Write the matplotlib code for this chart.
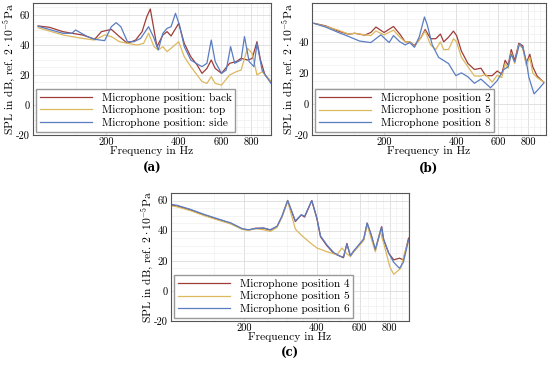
import matplotlib
matplotlib.use("Agg")
import matplotlib.pyplot as plt
import numpy as np

plt.rcParams['font.family'] = ['cmr10', 'DejaVu Serif']
plt.rcParams['mathtext.fontset'] = 'cm'
plt.rcParams['axes.formatter.use_mathtext'] = True

RED = '#9e3c38'
YEL = '#dcb85e'
BLU = '#5a7dc2'

# ---- panel (a): back / top / side
fa_back = [105, 117, 133, 145, 160, 168, 180, 192, 211, 228, 246, 266, 283, 296, 306, 317, 326,
           345, 359, 373, 401, 423, 450, 478, 501, 525, 547, 568, 603, 652, 694, 727, 773, 808,
           846, 875, 913, 967]
a_back = [52.7, 51.8, 48.9, 47.8, 46.7, 45.6, 43.8, 48.9, 50.4, 45.6, 41.1, 43.3, 48.9, 58.9, 64,
          50, 38.9, 46.7, 48.9, 46, 54.4, 41.1, 32.2, 26.7, 21.1, 24.4, 30, 24.4, 21.1, 27.8, 28.9,
          31.1, 30, 31, 42.2, 30, 20, 15.6]
fa_top = [105, 133, 160, 180, 198, 211, 228, 246, 270, 287, 301, 317, 330, 345, 359, 373, 401, 423,
          450, 478, 501, 525, 547, 568, 603, 652, 694, 727, 773, 808, 846, 888, 967]
a_top = [51.5, 46.7, 44.4, 43.3, 46.7, 45.6, 42.2, 41.1, 40, 41.1, 47.8, 38.9, 36.7, 38.9, 35.6,
         37.8, 42.2, 32.2, 25.6, 20, 15.6, 14.4, 18.9, 14.4, 13.3, 20, 22.2, 23.3, 37.8, 34.4, 20,
         22.2, 15.6]
fa_side = [105, 133, 145, 150, 168, 180, 198, 211, 221, 231, 246, 262, 279, 301, 315, 330, 345,
           359, 373, 389, 404, 423, 450, 486, 501, 525, 547, 568, 603, 631, 658, 684, 727, 751,
           785, 822, 846, 888, 967]
a_side = [52.5, 47.8, 47.8, 50, 45.6, 43.8, 42.9, 52.2, 54.9, 52.2, 42.2, 42.2, 44.4, 52.2, 45.6,
          36.7, 47.8, 51.1, 52.2, 61.1, 53.3, 38.9, 30, 26.7, 25.6, 27.8, 43.3, 28.9, 21.1, 23.3,
          38.9, 27.8, 30, 45.6, 28.9, 25.6, 41.1, 23.3, 14.4]

# ---- panel (b): positions 2 / 5 / 8
fb = [102, 114, 129, 142, 151, 166, 176, 185, 200, 219, 233, 245, 256, 268, 286, 297, 313, 329,
      344, 355, 372, 390, 402, 421, 448, 477, 508, 532, 566, 594, 621, 641, 660, 680, 703, 731,
      760, 785, 813, 836, 872, 930]
b_pos2 = [51.9, 50.3, 46.9, 44.9, 45.5, 44.3, 46, 49.5, 46, 49.9, 44.9, 40, 40, 37.6, 43, 47.9, 42,
          42, 45, 40, 43, 46.9, 44, 34, 26.1, 22.2, 23, 18.2, 18.2, 21.2, 19.2, 28.1, 25, 35, 28,
          39, 37.5, 26, 32, 24, 18, 13.9]
b_pos5 = [51.9, 50, 47.5, 45, 45.5, 44.5, 44, 47, 44.5, 47.5, 43, 40, 40, 37, 43, 47, 38, 35, 40,
          35, 35, 42, 40, 30, 24, 18, 18, 19, 14, 18.5, 17, 26, 23, 33, 26, 38, 36, 25, 30, 20,
          17, 14]
fb8 = [102, 114, 129, 142, 158, 176, 194, 210, 219, 233, 245, 256, 268, 281, 295, 303, 318, 338,
       372, 399, 421, 448, 477, 508, 557, 594, 631, 660, 680, 703, 737, 760, 785, 806, 847, 884,
       930]
b_pos8 = [51.9, 49.5, 46, 43.5, 40.5, 39.5, 44.5, 39.5, 44, 40, 38, 39.5, 36.5, 43.5, 56, 51, 38,
          30, 26, 18.2, 20, 17.5, 13.3, 16, 10.4, 15, 22, 24, 32, 27, 39, 36, 28, 17, 6.5, 9.5,
          13.5]

# ---- panel (c): positions 4 / 5 / 6
fc = [100, 106, 120, 137, 155, 176, 197, 209, 223, 241, 257, 274, 287, 303, 326, 345, 356, 381,
      400, 414, 440, 469, 499, 515, 532, 550, 567, 595, 624, 645, 670, 697, 740, 754, 792, 830,
      877, 910, 956]
c_pos4 = [57, 56.4, 53.8, 50.4, 47.6, 44.9, 41.1, 40.4, 41.6, 41.6, 40.4, 42.7, 49.3, 60, 46, 50.5,
          49, 60, 48, 36, 30, 25, 23, 22, 31.5, 23, 26, 30, 34, 45, 37, 27, 42.7, 34, 25, 20.6,
          21.7, 20.6, 35]
c_pos6 = [57.5, 56.8, 54.2, 50.8, 48, 45.2, 41.3, 40.6, 41.4, 41.8, 40.6, 42.9, 49.5, 60, 46.5,
          50.5, 49.5, 60, 48.5, 36.5, 30.5, 25.5, 23, 22.5, 31, 23.5, 26.5, 30.5, 34.5, 45, 37.5,
          27.5, 42.5, 34.5, 25, 19, 15, 19, 34]
fc5 = [100, 106, 120, 137, 155, 176, 197, 209, 223, 241, 257, 274, 287, 303, 326, 345, 375, 400,
       440, 484, 508, 532, 550, 567, 595, 624, 645, 670, 697, 730, 768, 800, 830, 888, 920, 956]
c_pos5 = [56.5, 55.8, 53.3, 50, 47.2, 44.5, 40.8, 40.2, 41.3, 40.6, 39.5, 42.2, 49, 59.5, 41, 37,
          32, 28.5, 26, 24, 28.5, 24.5, 23, 26, 29.5, 33.5, 44, 35, 26, 40, 27, 16, 11, 15, 25, 33]

fig = plt.figure(figsize=(5.5, 3.65), dpi=100)


def setup(ax, xlim, ylim, yticks, label):
    ax.set_xscale('log')
    ax.set_xlim(*xlim)
    ax.set_ylim(*ylim)
    ax.set_xticks([200, 400, 600, 800])
    ax.set_xticklabels(['200', '400', '600', '800'])
    ax.set_xticks(np.arange(100, 1000, 50), minor=True)
    ax.xaxis.set_minor_formatter(plt.NullFormatter())
    ax.set_yticks(yticks)
    ax.set_yticklabels([str(t) for t in yticks])
    ax.set_yticks(np.arange(-20, 70, 5), minor=True)
    ax.grid(True, which='major', color='#dcdcdc', lw=0.6)
    ax.grid(True, which='minor', color='#ececec', lw=0.4)
    ax.tick_params(which='both', length=0, labelsize=7.5, pad=2)
    for s in ax.spines.values():
        s.set_color('#555555')
        s.set_linewidth(0.8)
    ax.set_xlabel('Frequency in Hz', fontsize=8.3, labelpad=-1)
    ax.set_ylabel(r'SPL in dB, ref. $2\cdot10^{-5}$Pa', fontsize=8.3, labelpad=-1)
    ax.text(0.5, -0.25, label, transform=ax.transAxes, ha='center', va='center',
            fontsize=8.5, fontweight='bold', family='DejaVu Serif')


def leg(ax):
    ax.legend(loc='lower left', fontsize=8.1, handlelength=4.6, handletextpad=0.9,
              borderpad=0.35, labelspacing=0.25, fancybox=False, edgecolor='#999999',
              framealpha=1, borderaxespad=0.25)


W, H = 550, 365
axa = fig.add_axes([33 / W, 1 - 135 / H, 238 / W, 132 / H])
axa.plot(fa_back, a_back, color=RED, lw=0.9, label='Microphone position: back')
axa.plot(fa_top, a_top, color=YEL, lw=0.9, label='Microphone position: top')
axa.plot(fa_side, a_side, color=BLU, lw=0.9, label='Microphone position: side')
setup(axa, (105, 967), (-20, 68), [-20, 0, 20, 40, 60], '(a)')
leg(axa)

axb = fig.add_axes([312 / W, 1 - 135 / H, 234 / W, 132 / H])
axb.plot(fb, b_pos2, color=RED, lw=0.9, label='Microphone position 2')
axb.plot(fb, b_pos5, color=YEL, lw=0.9, label='Microphone position 5')
axb.plot(fb8, b_pos8, color=BLU, lw=0.9, label='Microphone position 8')
setup(axb, (103, 935), (-20, 57), [-20, 0, 20, 40], '(b)')
leg(axb)

axc = fig.add_axes([171 / W, 1 - 321 / H, 238 / W, 128 / H])
axc.plot(fc, c_pos4, color=RED, lw=0.9, label='Microphone position 4')
axc.plot(fc5, c_pos5, color=YEL, lw=0.9, label='Microphone position 5')
axc.plot(fc, c_pos6, color=BLU, lw=0.9, label='Microphone position 6')
setup(axc, (100, 960), (-20, 65), [-20, 0, 20, 40, 60], '(c)')
leg(axc)

fig.savefig('out.png', dpi=100)
